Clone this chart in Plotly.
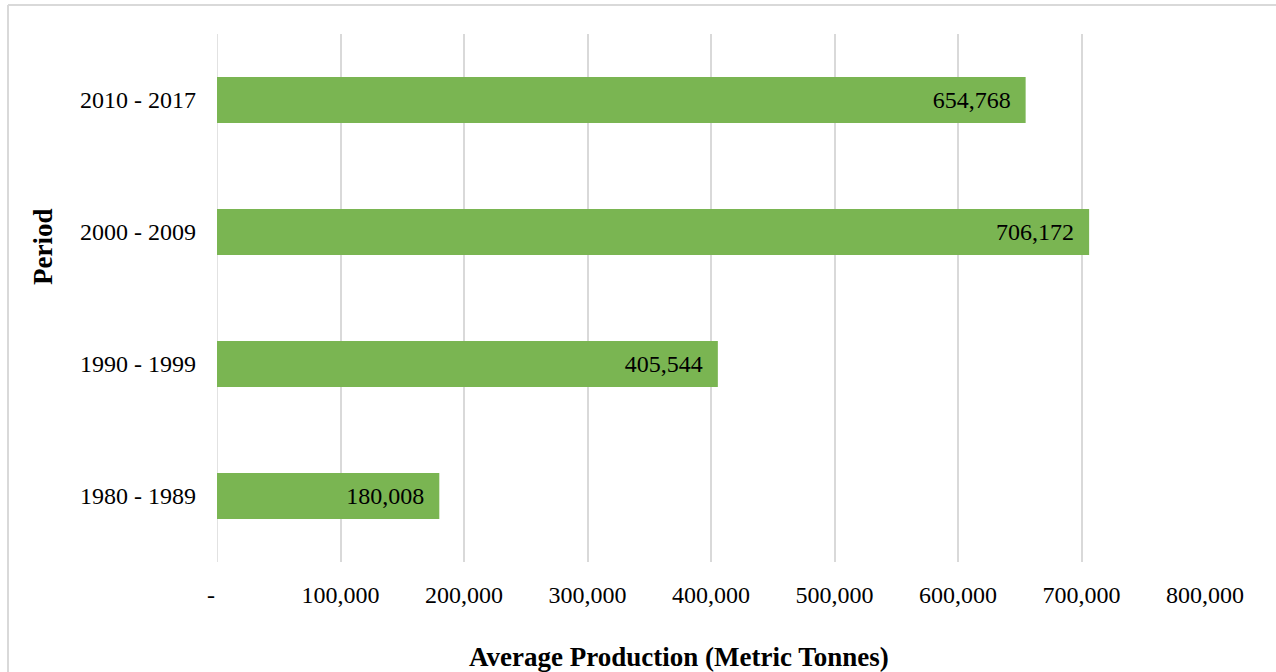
import plotly.graph_objects as go

# Average production per period
periods = ["1980 - 1989", "1990 - 1999", "2000 - 2009", "2010 - 2017"]
avg_production = [180008, 405544, 706172, 654768]

x_ticks = [0, 100000, 200000, 300000, 400000, 500000, 600000, 700000, 800000]
x_tick_text = ["-\u00a0\u00a0"] + [f"{v:,}" for v in x_ticks[1:]]

FONT = "Liberation Serif, Times New Roman, serif"
GREEN = "#7AB552"
GRID = "#d9d9d9"

W, H = 1276, 672
L, R, T, B = 217, 71, 34, 110
pw, ph = W - L - R, H - T - B


def px_x(px):
    return (px - L) / pw


def px_y(py):
    return (H - B - py) / ph


fig = go.Figure(
    go.Bar(
        x=avg_production,
        y=periods,
        orientation="h",
        width=0.35,
        marker=dict(color=GREEN, line=dict(width=0)),
        text=[f"{v:,}\u00a0\u00a0" for v in avg_production],
        textposition="inside",
        insidetextanchor="end",
        constraintext="none",
        textfont=dict(family=FONT, size=24, color="black"),
        hoverinfo="skip",
    )
)

fig.update_layout(
    width=W,
    height=H,
    margin=dict(l=L, r=R, t=T, b=B),
    paper_bgcolor="white",
    plot_bgcolor="white",
    font=dict(family=FONT, size=24, color="black"),
    showlegend=False,
    xaxis=dict(
        range=[0, 800000],
        tickvals=x_ticks,
        ticktext=x_tick_text,
        showgrid=True,
        gridcolor=GRID,
        gridwidth=1.5,
        zeroline=False,
        showline=False,
        ticks="",
        ticklabelstandoff=16,
        tickfont=dict(family=FONT, size=24, color="black"),
    ),
    yaxis=dict(
        type="category",
        categoryorder="array",
        categoryarray=periods,
        range=[-0.5, 3.5],
        showgrid=False,
        zeroline=False,
        showline=False,
        ticks="",
        ticklabelstandoff=20,
        tickfont=dict(family=FONT, size=24, color="black"),
    ),
    annotations=[
        dict(
            text="<b>Average Production (Metric Tonnes)</b>",
            xref="paper", yref="paper",
            x=px_x(679), y=px_y(657),
            xanchor="center", yanchor="middle",
            showarrow=False,
            font=dict(family=FONT, size=27, color="black"),
        ),
        dict(
            text="<b>Period</b>",
            xref="paper", yref="paper",
            x=px_x(43), y=px_y(247),
            xanchor="center", yanchor="middle",
            textangle=-90,
            showarrow=False,
            font=dict(family=FONT, size=27, color="black"),
        ),
    ],
    shapes=[
        # gridline at zero (left edge of the plot area)
        dict(type="line", xref="x", yref="paper", layer="below",
             x0=0, x1=0, y0=0, y1=1,
             line=dict(color=GRID, width=1.5)),
        # chart frame (top and left edges)
        dict(type="line", xref="paper", yref="paper",
             x0=px_x(8), x1=px_x(W + 10), y0=px_y(5), y1=px_y(5),
             line=dict(color=GRID, width=2)),
        dict(type="line", xref="paper", yref="paper",
             x0=px_x(8), x1=px_x(8), y0=px_y(5), y1=px_y(H + 10),
             line=dict(color=GRID, width=2)),
    ],
)

fig.write_html("out.html")
